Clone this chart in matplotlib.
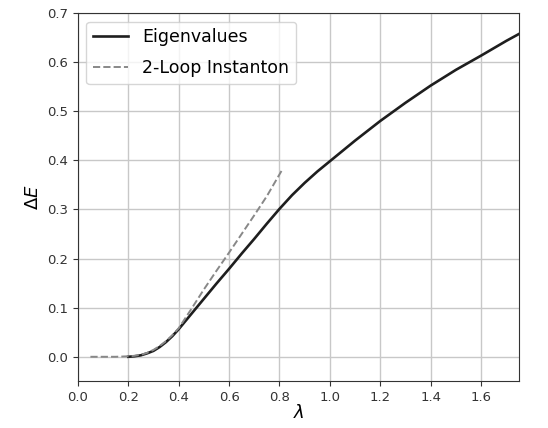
import matplotlib
matplotlib.use("Agg")
import matplotlib.pyplot as plt

# Energy gap from exact diagonalisation
lam_eig = [0.2, 0.225, 0.25, 0.275, 0.3, 0.325, 0.35, 0.375, 0.4, 0.45, 0.5,
           0.55, 0.6, 0.65, 0.7, 0.75, 0.8, 0.85, 0.9, 0.95, 1.0, 1.05, 1.1,
           1.2, 1.3, 1.4, 1.5, 1.6, 1.7, 1.75]
dE_eig = [0.0, 0.001, 0.003, 0.007, 0.012, 0.02, 0.03, 0.042, 0.056, 0.087,
          0.118, 0.149, 0.179, 0.21, 0.24, 0.271, 0.301, 0.329, 0.354, 0.377,
          0.398, 0.419, 0.44, 0.48, 0.517, 0.552, 0.584, 0.613, 0.643, 0.657]

# Two-loop instanton prediction
lam_inst = [0.05, 0.1, 0.15, 0.2, 0.225, 0.25, 0.275, 0.3, 0.325, 0.35, 0.375,
            0.4, 0.45, 0.5, 0.55, 0.6, 0.65, 0.7, 0.75, 0.81]
dE_inst = [0.0, 0.0, 0.0, 0.001, 0.002, 0.004, 0.008, 0.014, 0.022, 0.032,
           0.044, 0.058, 0.097, 0.137, 0.175, 0.212, 0.25, 0.288, 0.327, 0.38]

x_ticks = [0.0, 0.2, 0.4, 0.6, 0.8, 1.0, 1.2, 1.4, 1.6]
y_ticks = [0.0, 0.1, 0.2, 0.3, 0.4, 0.5, 0.6, 0.7]

fig = plt.figure(figsize=(5.48, 4.28), dpi=100)
ax = fig.add_axes([0.142, 0.109, 0.805, 0.861])

ax.plot(lam_eig, dE_eig, color="#1e1e1e", lw=1.9, label="Eigenvalues")
ax.plot(lam_inst, dE_inst, color="#888888", lw=1.4, ls="--",
        label="2-Loop Instanton")

ax.set_xlim(0.0, 1.75)
ax.set_ylim(-0.05, 0.7)
ax.set_xticks(x_ticks)
ax.set_yticks(y_ticks)
ax.tick_params(labelsize=9.5, colors="#333333")
ax.grid(True, color="#c8c8c8", lw=1.0)
for s in ax.spines.values():
    s.set_color("#333333")

ax.set_xlabel(r"$\lambda$", fontsize=13, labelpad=0)
ax.set_ylabel(r"$\Delta E$", fontsize=13)
ax.legend(loc="upper left", fontsize=12.5, framealpha=0.8, labelspacing=0.75)

fig.savefig("out.png", dpi=100)
